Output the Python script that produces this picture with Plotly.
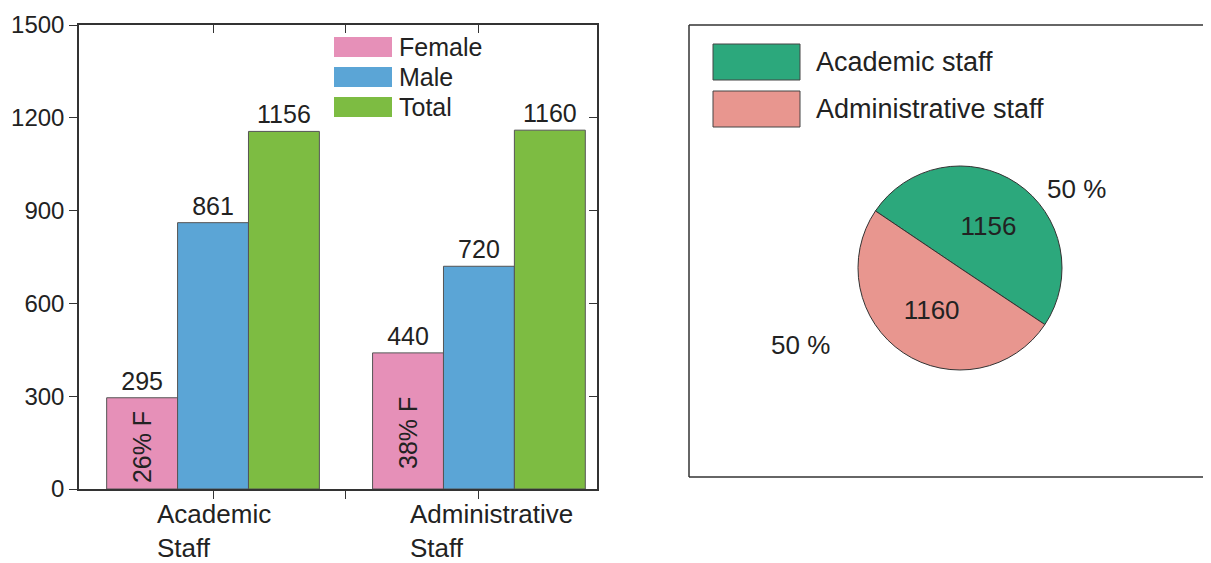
import plotly.graph_objects as go

# page has an 8px body margin, so the figure is a bit smaller than the window
OFF = 8
W, H = 1211 - OFF, 563 - OFF

# bar chart data
categories = ["Academic<br>Staff", "Administrative<br>Staff"]
female = [295, 440]
male = [861, 720]
total = [1156, 1160]
female_share = ["26% F", "38% F"]

# pie chart data
pie_labels = ["Academic staff", "Administrative staff"]
pie_values = [1156, 1160]
pie_pct = ["50 %", "50 %"]

bar_names = ["Female", "Male", "Total"]
bar_colors = ["#E690B8", "#5BA5D6", "#7DBC42"]
pie_colors = ["#2CA87C", "#E8968F"]

FONT = "Liberation Sans, Arial, sans-serif"
TXT = "#222222"
LINE = "#333333"


def px(x):
    return (x - OFF) / W


def py(y):
    return 1 - (y - OFF) / H


fig = go.Figure()

xs = [0, 1]
for name, vals, col in zip(bar_names, [female, male, total], bar_colors):
    fig.add_trace(go.Bar(
        x=xs, y=vals, name=name,
        marker=dict(color=col, line=dict(color="#555555", width=1)),
        texttemplate="%{y}", textposition="outside",
        textfont=dict(size=25, color=TXT, family=FONT),
        cliponaxis=False, showlegend=False,
    ))

# empty trace so the top/right tick axes get drawn
fig.add_trace(go.Scatter(x=[None], y=[None], xaxis="x2", yaxis="y2",
                         showlegend=False, hoverinfo="skip"))

fig.add_trace(go.Pie(
    labels=pie_labels, values=pie_values, sort=False,
    marker=dict(colors=pie_colors, line=dict(color=LINE, width=1)),
    textinfo="value", textposition="inside", insidetextorientation="horizontal",
    textfont=dict(size=26, color=TXT, family=FONT),
    rotation=-56, showlegend=False,
    domain=dict(x=[px(858), px(1062)], y=[py(370), py(166)]),
))

xr = [-0.504, 1.444]
yr = [0, 1500]
yticks = [0, 300, 600, 900, 1200, 1500]
axis_line = dict(showline=True, linecolor=LINE, linewidth=1.5,
                 showgrid=False, zeroline=False, automargin=False)

fig.update_layout(
    width=W, height=H,
    margin=dict(l=0, r=0, t=0, b=0),
    paper_bgcolor="white", plot_bgcolor="white",
    font=dict(family=FONT, color=TXT),
    barmode="group", bargap=0.2, bargroupgap=0,
    xaxis=dict(domain=[px(79), px(597)], range=xr, tickvals=[0, 0.5, 1],
               ticktext=["", "", ""], ticks="outside", ticklen=8,
               tickcolor=LINE, anchor="y", mirror=True, **axis_line),
    xaxis2=dict(domain=[px(79), px(597)], range=xr, tickvals=[0, 0.5, 1],
                showticklabels=False, ticks="inside", ticklen=8,
                tickcolor=LINE, overlaying="x", side="top", anchor="y",
                **axis_line),
    yaxis=dict(domain=[py(489), py(25)], range=yr, tickvals=yticks,
               ticks="outside", ticklen=8, tickcolor=LINE,
               tickfont=dict(size=24, color=TXT), anchor="x", mirror=True,
               **axis_line),
    yaxis2=dict(domain=[py(489), py(25)], range=yr, tickvals=yticks,
                showticklabels=False, ticks="inside", ticklen=8, tickcolor=LINE,
                overlaying="y", side="right", anchor="x", **axis_line),
)

annotations = []
# rotated female share labels inside female bars
offs = -0.8 / 3
for i, (s, ys) in enumerate(zip(female_share, [4, 18])):
    annotations.append(dict(x=xs[i] + offs, y=0, xref="x", yref="y", text=s,
                            textangle=-90, showarrow=False, xanchor="center",
                            yanchor="bottom", yshift=ys,
                            font=dict(size=25, color=TXT)))
# category labels, left aligned
for i, (c, shift) in enumerate(zip(categories, [-58, -71])):
    annotations.append(dict(x=xs[i], y=py(497), xref="x", yref="paper", text=c,
                            showarrow=False, xanchor="left", yanchor="top",
                            align="left", xshift=shift,
                            font=dict(size=26, color=TXT)))

shapes = []
# bar legend (drawn by hand for wide swatches)
for name, col, yc in zip(bar_names, bar_colors, [47, 77, 107]):
    shapes.append(dict(type="rect", xref="paper", yref="paper",
                       x0=px(334), x1=px(392), y0=py(yc - 10), y1=py(yc + 10),
                       fillcolor=col, line=dict(width=0)))
    annotations.append(dict(x=px(397), y=py(yc), xref="paper", yref="paper",
                            text=name, showarrow=False, xanchor="left",
                            yanchor="middle", font=dict(size=25, color=TXT)))

# pie box (open to the right edge) and legend
for x0, y0, x1, y1 in [(689, 25, 1211, 25), (689, 477, 1211, 477), (689, 25, 689, 477)]:
    shapes.append(dict(type="line", xref="paper", yref="paper",
                       x0=px(x0), x1=px(x1), y0=py(y0), y1=py(y1),
                       line=dict(color=LINE, width=1.5)))
for lab, col, yc in zip(pie_labels, pie_colors, [62, 109]):
    shapes.append(dict(type="rect", xref="paper", yref="paper",
                       x0=px(713), x1=px(800), y0=py(yc - 18), y1=py(yc + 18),
                       fillcolor=col, line=dict(color="#444444", width=1)))
    annotations.append(dict(x=px(814), y=py(yc), xref="paper", yref="paper",
                            text=lab, showarrow=False, xanchor="left",
                            yanchor="middle", font=dict(size=27, color=TXT)))

for t, (xc, yc) in zip(pie_pct, [(1108, 172), (832, 345)]):
    annotations.append(dict(x=px(xc), y=py(yc), xref="paper", yref="paper",
                            text=t, showarrow=False,
                            font=dict(size=26, color=TXT)))

fig.update_layout(annotations=annotations, shapes=shapes)

fig.write_html("out.html")
